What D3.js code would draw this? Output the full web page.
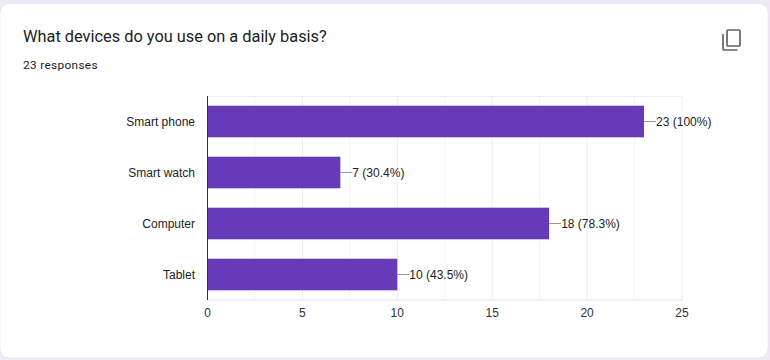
<!DOCTYPE html>
<html>
<head>
<meta charset="utf-8">
<script src="https://cdn.jsdelivr.net/npm/d3@7"></script>
<style>
  html, body { margin: 0; padding: 0; background: #ede9f7; overflow: hidden; }
  text { font-family: Roboto, Arial, sans-serif; }
  .label { font-family: "Liberation Sans", Arial, sans-serif; font-size: 12px; fill: #222; }
</style>
</head>
<body>
<script>
const categories = ['Smart phone', 'Smart watch', 'Computer', 'Tablet']
const counts = [23, 7, 18, 10]
const percents = ['100%', '30.4%', '78.3%', '43.5%']
const majorTicks = [0, 5, 10, 15, 20, 25]
const minorTicks = [2.5, 7.5, 12.5, 17.5, 22.5]

const width = 770
const height = 360

const svg = d3.select('body').append('svg')
  .attr('width', width)
  .attr('height', height)
  .style('display', 'block')

// white card with rounded corners
svg.append('rect')
  .attr('x', 0)
  .attr('y', 3.5)
  .attr('width', 768)
  .attr('height', 354.5)
  .attr('rx', 9)
  .attr('fill', '#fff')
  .attr('stroke', '#dadce0')
  .attr('stroke-width', 0.5)

svg.append('text')
  .attr('x', 23)
  .attr('y', 41.5)
  .attr('font-size', 16.35)
  .attr('fill', '#202124')
  .text('What devices do you use on a daily basis?')

svg.append('text')
  .attr('x', 23)
  .attr('y', 69)
  .attr('font-size', 11.8)
  .attr('letter-spacing', 0.35)
  .attr('fill', '#202124')
  .text('23 responses')

// copy icon
const icon = svg.append('g')
  .attr('fill', 'none')
  .attr('stroke', '#5f6368')
  .attr('stroke-width', 1.7)
icon.append('rect')
  .attr('x', 727)
  .attr('y', 30)
  .attr('width', 13)
  .attr('height', 16)
  .attr('rx', 1)
icon.append('path')
  .attr('d', 'M723 34v14.5a1.5 1.5 0 0 0 1.5 1.5h13')

const x = d3.scaleLinear().domain([0, 25]).range([207.5, 682])
const y = d3.scaleBand().domain(categories).range([96, 300]).paddingInner(0.38).paddingOuter(0.19)

const grid = svg.append('g')
grid.selectAll('line.minor')
  .data(minorTicks)
  .enter()
  .append('line')
  .attr('class', 'minor')
  .attr('x1', d => x(d))
  .attr('x2', d => x(d))
  .attr('y1', 96)
  .attr('y2', 300)
  .attr('stroke', '#f5f5f5')
grid.selectAll('line.major')
  .data(majorTicks.slice(1))
  .enter()
  .append('line')
  .attr('class', 'major')
  .attr('x1', d => x(d))
  .attr('x2', d => x(d))
  .attr('y1', 96)
  .attr('y2', 300)
  .attr('stroke', '#ececec')
grid.append('line')
  .attr('x1', x(0))
  .attr('x2', x(25))
  .attr('y1', 96.5)
  .attr('y2', 96.5)
  .attr('stroke', '#f0f0f0')
grid.append('line')
  .attr('x1', x(0))
  .attr('x2', x(25) + 1)
  .attr('y1', 300)
  .attr('y2', 300)
  .attr('stroke', '#f0f0f0')
  .attr('stroke-width', 2)

svg.selectAll('rect.bar')
  .data(counts)
  .enter()
  .append('rect')
  .attr('class', 'bar')
  .attr('x', x(0))
  .attr('y', (d, i) => y(categories[i]))
  .attr('width', d => x(d) - x(0))
  .attr('height', y.bandwidth())
  .attr('fill', '#673ab7')

// zero baseline
svg.append('line')
  .attr('x1', x(0))
  .attr('x2', x(0))
  .attr('y1', 96)
  .attr('y2', 300)
  .attr('stroke', '#333')

// leader line and value label
svg.selectAll('line.leader')
  .data(counts)
  .enter()
  .append('line')
  .attr('class', 'leader')
  .attr('x1', d => x(d))
  .attr('x2', d => x(d) + 12)
  .attr('y1', (d, i) => y(categories[i]) + y.bandwidth() / 2)
  .attr('y2', (d, i) => y(categories[i]) + y.bandwidth() / 2)
  .attr('stroke', '#999')

svg.selectAll('text.value')
  .data(counts)
  .enter()
  .append('text')
  .attr('class', 'label value')
  .attr('x', d => x(d) + 12)
  .attr('y', (d, i) => y(categories[i]) + y.bandwidth() / 2 + 4)
  .text((d, i) => `${d} (${percents[i]})`)

svg.selectAll('text.cat')
  .data(categories)
  .enter()
  .append('text')
  .attr('class', 'label cat')
  .attr('x', 195)
  .attr('y', d => y(d) + y.bandwidth() / 2 + 4)
  .attr('text-anchor', 'end')
  .text(d => d)

svg.selectAll('text.tick')
  .data(majorTicks)
  .enter()
  .append('text')
  .attr('class', 'label tick')
  .attr('x', d => x(d))
  .attr('y', 317)
  .attr('text-anchor', 'middle')
  .style('fill', '#333')
  .text(d => d)
</script>
</body>
</html>
